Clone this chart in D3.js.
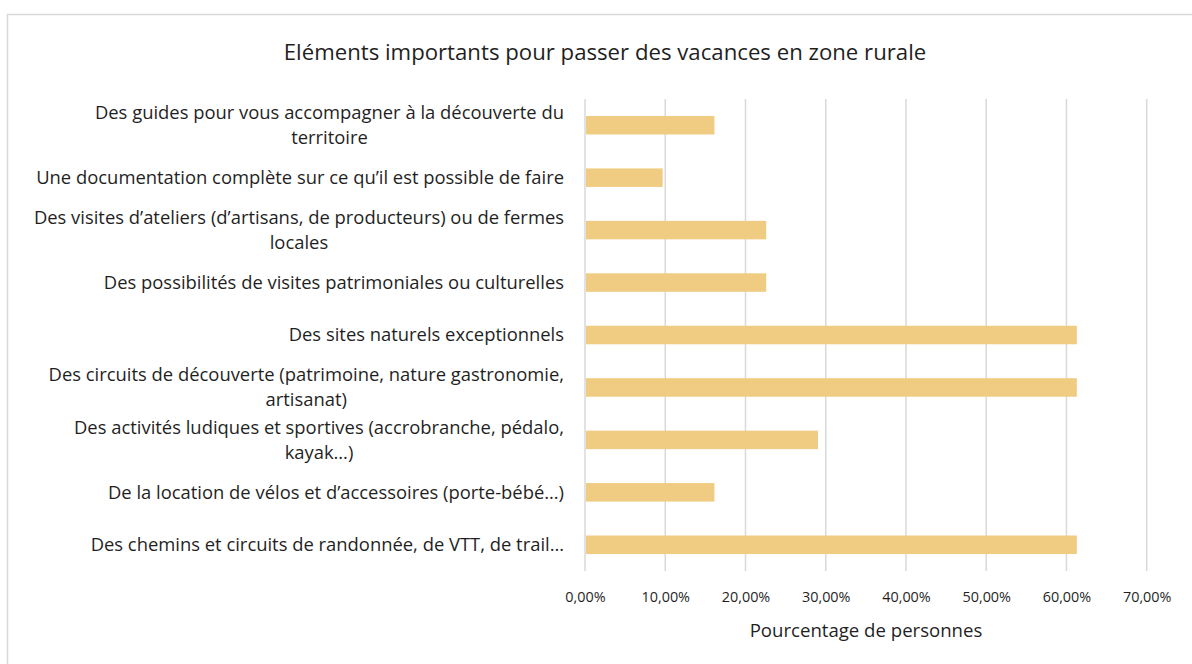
<!DOCTYPE html>
<html>
<head>
<meta charset="utf-8">
<script src="https://cdn.jsdelivr.net/npm/d3@7/dist/d3.min.js"></script>
<style>
  html, body { margin: 0; padding: 0; background: #fff; }
  svg { display: block; }
  text { font-family: "Open Sans", Lato, sans-serif; fill: #1f1f1f; }
</style>
</head>
<body>
<svg id="chart" width="1192" height="664"></svg>
<script>
// Categories, top to bottom; each entry is the list of lines of the label.
const categories = [
  ["Des guides pour vous accompagner à la découverte du", "territoire"],
  ["Une documentation complète sur ce qu’il est possible de faire"],
  ["Des visites d’ateliers (d’artisans, de producteurs) ou de fermes", "locales"],
  ["Des possibilités de visites patrimoniales ou culturelles"],
  ["Des sites naturels exceptionnels"],
  ["Des circuits de découverte (patrimoine, nature gastronomie,", "artisanat)"],
  ["Des activités ludiques et sportives (accrobranche, pédalo,", "kayak…)"],
  ["De la location de vélos et d’accessoires (porte-bébé…)"],
  ["Des chemins et circuits de randonnée, de VTT, de trail…"]
];
// Share of respondents for each category
const values = [0.1613, 0.0968, 0.2258, 0.2258, 0.6129, 0.6129, 0.2903, 0.1613, 0.6129];
const xTicks = [0, 0.1, 0.2, 0.3, 0.4, 0.5, 0.6, 0.7];

const title = "Eléments importants pour passer des vacances en zone rurale";
const xTitle = "Pourcentage de personnes";

const frLocale = d3.formatLocale({ decimal: ",", thousands: "\u00a0", grouping: [3], currency: ["", " €"] });
const pct = frLocale.format(".2%");

const svg = d3.select("#chart");
const W = 1192, H = 664;
const plot = { left: 585, right: 1146.7, top: 99, bottom: 571 };

// Chart frame
svg.append("rect")
  .attr("x", 7.5).attr("y", 14.5)
  .attr("width", W + 20).attr("height", H + 20)
  .attr("fill", "#fff").attr("stroke", "#d9d9d9").attr("stroke-width", 1.5);

const x = d3.scaleLinear().domain([0, 0.7]).range([plot.left, plot.right]);
const y = d3.scaleBand().domain(d3.range(categories.length)).range([plot.top, plot.bottom]).padding(0);
const barH = y.bandwidth() / 2.83;

// Vertical gridlines
svg.append("g").selectAll("line").data(xTicks).join("line")
  .attr("x1", d => x(d)).attr("x2", d => x(d))
  .attr("y1", plot.top).attr("y2", plot.bottom)
  .attr("stroke", "#d9d9d9").attr("stroke-width", 1.5);

// Bars
svg.append("g").selectAll("rect").data(values).join("rect")
  .attr("x", x(0) + 1)
  .attr("y", (d, i) => y(i) + y.bandwidth() / 2 - barH / 2)
  .attr("width", d => x(d) - x(0) - 1)
  .attr("height", barH)
  .attr("fill", "#f0cc82");

// X axis tick labels
const xAxis = d3.axisBottom(x).tickValues(xTicks).tickFormat(pct).tickSize(0).tickPadding(0);
const gx = svg.append("g").attr("transform", `translate(0, ${plot.bottom})`).call(xAxis);
gx.select(".domain").remove();
gx.selectAll("text")
  .attr("y", 26).attr("dy", "0.35em")
  .style("font-family", "'Open Sans', sans-serif").style("font-size", "14.4px").attr("fill", "#1f1f1f");

// Category labels: block right-aligned, lines centered within the block
const labelRight = 564;
const lineH = 25;
const fontSize = 18.4;
const lg = svg.append("g");
categories.forEach((lines, i) => {
  const cy = y(i) + y.bandwidth() / 2;
  const g = lg.append("g");
  const texts = lines.map((ln, k) => g.append("text")
    .attr("y", cy + (k - (lines.length - 1) / 2) * lineH)
    .attr("dy", "0.35em")
    .style("font-size", fontSize + "px")
    .text(ln));
  const widths = texts.map(t => t.node().getComputedTextLength());
  const blockW = d3.max(widths);
  texts.forEach(t => t.attr("x", labelRight - blockW / 2).attr("text-anchor", "middle"));
});

// Title
svg.append("text")
  .attr("x", 605).attr("y", 52).attr("dy", "0.35em")
  .attr("text-anchor", "middle")
  .style("font-size", "22.2px")
  .text(title);

// Axis title
svg.append("text")
  .attr("x", 866).attr("y", 630).attr("dy", "0.35em")
  .attr("text-anchor", "middle")
  .style("font-size", "18.6px")
  .text(xTitle);
</script>
</body>
</html>
